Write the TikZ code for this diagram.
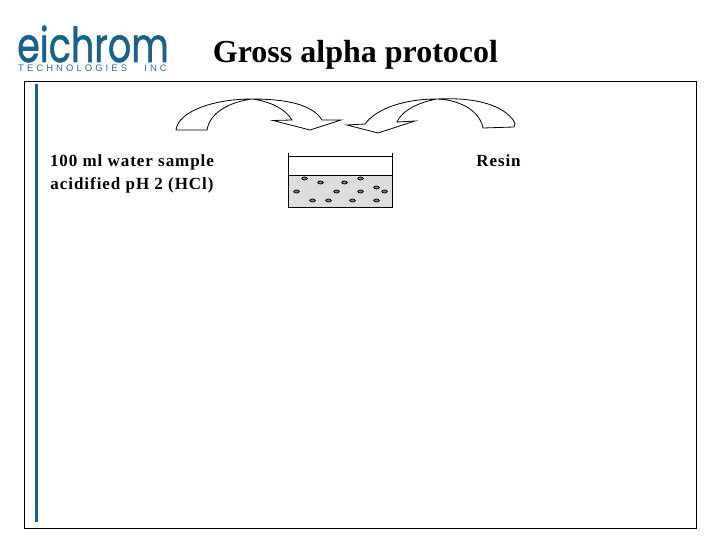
\documentclass[tikz,border=0pt]{standalone}
\usepackage{fontspec}
\setmainfont{Liberation Serif}
\newfontfamily\logofont[FakeBold=1.2]{Poppins}
\newfontfamily\tagfont[LetterSpace=32]{Liberation Sans}
\definecolor{eichromblue}{RGB}{22,98,140}
\definecolor{resingray}{RGB}{221,221,221}
\usetikzlibrary{shapes.geometric}
\tikzset{
    x=1pt,y=-1pt,
    outline/.style ={
        draw=black,
        line width=0.8pt
    },
    bead/.style ={
        shape=ellipse,
        draw=black,
        fill=gray,
        line width=0.8pt,
        inner sep=0pt,
        minimum width=5.5pt,
        minimum height=3pt
    },
    tagline/.style ={
        font=\tagfont\fontsize{9.5}{9.5}\selectfont,
        text=eichromblue!65!gray,
        inner sep=0pt
    },
    label/.style ={
        font=\bfseries\fontsize{17}{23}\selectfont\addfontfeature{LetterSpace=5.6},
        align=center,
        text=black
    }
}
\begin{document}
\begin{tikzpicture}
    \useasboundingbox (0,0) rectangle (720,540);
    % logo
    \node[font=\logofont\fontsize{48}{48}\selectfont,text=eichromblue,inner sep=0pt,xscale=.76,anchor=base] (logo) at (93,62) {eichrom};
    \node[tagline,anchor=west] (tech) at (18,68.5) {TECHNOLOGIES};
    \node[tagline,anchor=east] (inc) at (167,68.5) {INC};
    \node[font=\bfseries\fontsize{32}{36}\selectfont] (title) at (355.5,55) {Gross alpha protocol};
    % frame
    \draw[outline] (24.5,81.5) rectangle (696,528);
    \coordinate (bartop) at (36,84);
    \coordinate (barbottom) at (36,522);
    \draw[eichromblue,line width=3pt] (bartop) -- (barbottom);
    % arrows
    \draw[outline,fill=white] (176,130) .. controls (178,112) and (212,99) .. (252,99)
        .. controls (285,99) and (312,104) .. (322,120) -- (341,120) -- (310,130) -- (273,120.5) -- (292,120)
        .. controls (285,108) and (268,101) .. (252,99)
        .. controls (230,102) and (210,112) .. (207,130) -- cycle;
    \draw[outline,fill=white] (347,125) -- (365,124)
        .. controls (377,108) and (405,99) .. (437,99)
        .. controls (462,100) and (480,112) .. (483,128) -- (514,127) -- (515,123)
        .. controls (505,105) and (475,97) .. (437,99)
        .. controls (420,102) and (402,110) .. (397,122) -- (415,121) -- (378,133) -- cycle;
    % beaker
    \fill[resingray] (288.5,175.5) rectangle (392.5,207);
    \draw[outline] (288.5,153) -- (288.5,207) -- (392.5,207) -- (392.5,153);
    \draw[outline] (288.5,156) -- (392.5,156);
    \draw[outline] (288.5,175.5) -- (392.5,175.5);
    \node[bead] (b1) at (304.5,178.5) {};
    \node[bead] (b2) at (320.5,182.5) {};
    \node[bead] (b3) at (344.5,182.5) {};
    \node[bead] (b4) at (360.5,178.5) {};
    \node[bead] (b5) at (376.5,187.5) {};
    \node[bead] (b6) at (296.5,191.5) {};
    \node[bead] (b7) at (336.5,191.5) {};
    \node[bead] (b8) at (360.5,191.5) {};
    \node[bead] (b9) at (384.5,191.5) {};
    \node[bead] (b10) at (312.5,200.5) {};
    \node[bead] (b11) at (328.5,200.5) {};
    \node[bead] (b12) at (352.5,200.5) {};
    \node[bead] (b13) at (376.5,200.5) {};
    % labels
    \node[label] (sample) at (132,174) {100 ml water sample\\acidified pH 2 (HCl)};
    \node[label] (resin) at (498.5,161) {Resin};
\end{tikzpicture}
\end{document}
